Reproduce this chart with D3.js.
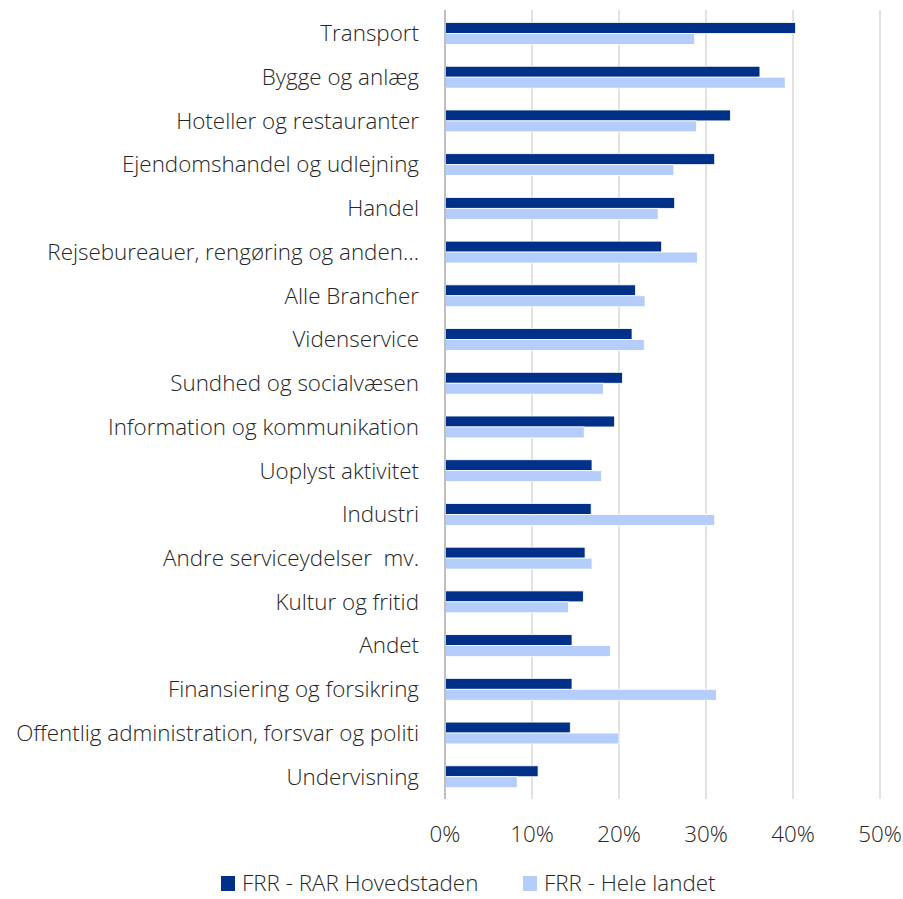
<!DOCTYPE html>
<html>
<head>
<meta charset="utf-8">
<script src="https://cdn.jsdelivr.net/npm/d3@7"></script>
<style>
  html, body { margin: 0; padding: 0; background: #fff; overflow: hidden; }
  svg { display: block; }
  text { font-family: "Open Sans", "Noto Sans", sans-serif; font-weight: 300; fill: #262626; white-space: pre; }
</style>
</head>
<body>
<svg id="chart" width="903" height="899"></svg>
<script>
const categories = [
  "Transport", "Bygge og anlæg", "Hoteller og restauranter", "Ejendomshandel og udlejning",
  "Handel", "Rejsebureauer, rengøring og anden…", "Alle Brancher", "Videnservice",
  "Sundhed og socialvæsen", "Information og kommunikation", "Uoplyst aktivitet", "Industri",
  "Andre serviceydelser  mv.", "Kultur og fritid", "Andet", "Finansiering og forsikring",
  "Offentlig administration, forsvar og politi", "Undervisning"
];
const seriesNames = ["FRR - RAR Hovedstaden", "FRR - Hele landet"];
const hovedstaden = [0.403, 0.362, 0.328, 0.310, 0.264, 0.249, 0.219, 0.215, 0.204, 0.195, 0.169, 0.168, 0.161, 0.159, 0.146, 0.146, 0.144, 0.107];
const heleLandet  = [0.287, 0.391, 0.289, 0.263, 0.245, 0.290, 0.230, 0.229, 0.182, 0.160, 0.180, 0.310, 0.169, 0.142, 0.190, 0.312, 0.200, 0.083];
const xTicks = [0, 0.1, 0.2, 0.3, 0.4, 0.5];
const colors = ["#003087", "#b4cdfb"];

const svg = d3.select("#chart");
const x = d3.scaleLinear().domain([0, 0.5]).range([445, 880]);
const y = d3.scaleBand().domain(categories).range([11.6, 798.6]).paddingInner(0.5).paddingOuter(0.25);
const sub = d3.scaleBand().domain(seriesNames).range([0, y.bandwidth()]);

// gridlines
svg.append("g").selectAll("line").data(xTicks.slice(1)).join("line")
  .attr("x1", d => x(d)).attr("x2", d => x(d))
  .attr("y1", 10).attr("y2", 799)
  .attr("stroke", "#d9d9d9").attr("stroke-width", 1.5);

const rows = categories.map((c, i) => ({ c, vals: [hovedstaden[i], heleLandet[i]] }));
const g = svg.append("g").selectAll("g").data(rows).join("g")
  .attr("transform", d => `translate(0,${y(d.c)})`);
g.selectAll("rect").data(d => d.vals.map((v, j) => ({ v, s: seriesNames[j], j }))).join("rect")
  .attr("x", x(0))
  .attr("y", d => sub(d.s))
  .attr("width", d => x(d.v) - x(0))
  .attr("height", sub.bandwidth())
  .attr("fill", d => colors[d.j])
  .attr("stroke", "#fff").attr("stroke-width", 0.8);

// zero axis line
svg.append("line").attr("x1", x(0)).attr("x2", x(0)).attr("y1", 10).attr("y2", 799)
  .attr("stroke", "#bfbfbf").attr("stroke-width", 2);

// category labels
svg.append("g").selectAll("text").data(categories).join("text")
  .attr("x", 419)
  .attr("y", d => y(d) + y.bandwidth() / 2)
  .attr("dy", "0.35em")
  .attr("text-anchor", "end")
  .style("font-size", "22.4px")
  .text(d => d);

// x tick labels
svg.append("g").selectAll("text").data(xTicks).join("text")
  .attr("x", d => x(d))
  .attr("y", 834)
  .attr("dy", "0.35em")
  .attr("text-anchor", "middle")
  .style("font-size", "22.4px")
  .text(d => d3.format(".0%")(d));

// legend
const legendX = [221, 523];
const lg = svg.append("g").selectAll("g").data(seriesNames).join("g")
  .attr("transform", (d, i) => `translate(${legendX[i]},883)`);
lg.append("rect").attr("x", 0).attr("y", -7).attr("width", 14).attr("height", 15)
  .attr("fill", (d, i) => colors[i]);
lg.append("text").attr("x", 21).attr("y", 0).attr("dy", "0.35em")
  .style("font-size", "22.4px").text(d => d);
</script>
</body>
</html>
